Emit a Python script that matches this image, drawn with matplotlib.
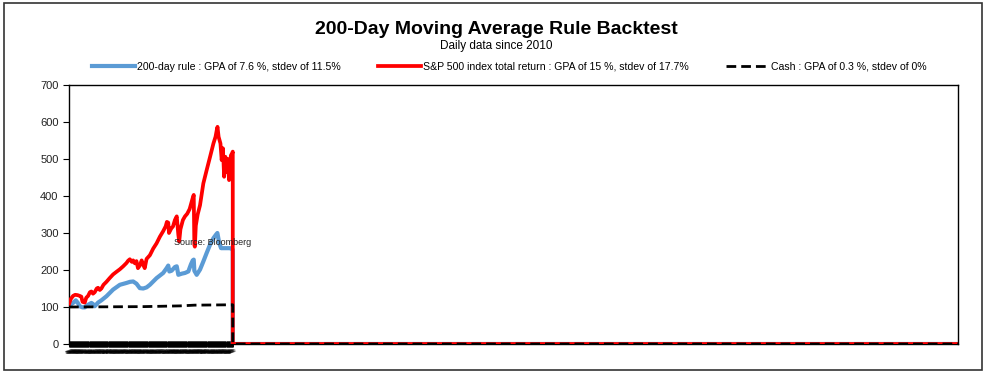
import numpy as np
import matplotlib
matplotlib.use("Agg")
import matplotlib.pyplot as plt
from matplotlib.patches import Rectangle

plt.rcParams['font.family'] = ['Liberation Sans', 'DejaVu Sans']

# S&P 500 total return index (decimal year, value)
spx_years = [2010.00, 2010.15, 2010.33, 2010.50, 2010.70, 2010.87, 2011.00, 2011.10, 2011.28, 2011.40,
             2011.55, 2011.70, 2011.82, 2011.95, 2012.09, 2012.25, 2012.36, 2012.50, 2012.63, 2012.80,
             2013.04, 2013.30, 2013.58, 2013.85, 2014.13, 2014.40, 2014.67, 2014.80, 2014.94, 2015.10,
             2015.21, 2015.35, 2015.48, 2015.60, 2015.75, 2015.90, 2016.03, 2016.15, 2016.30, 2016.57,
             2016.84, 2017.11, 2017.38, 2017.65, 2017.85, 2017.95, 2018.06, 2018.12, 2018.30, 2018.45,
             2018.60, 2018.75, 2018.88, 2018.95, 2019.05, 2019.25, 2019.42, 2019.60, 2019.80, 2020.05,
             2020.13, 2020.18, 2020.22, 2020.30, 2020.45, 2020.64, 2020.91, 2021.18, 2021.45, 2021.73,
             2021.90, 2022.00, 2022.06, 2022.15, 2022.30, 2022.40, 2022.50, 2022.60, 2022.70, 2022.80,
             2022.90, 2023.00, 2023.15, 2023.25, 2023.30]
spx_vals = [108, 122, 130, 133, 132, 130, 128, 114, 112, 125,
            130, 140, 142, 136, 140, 150, 152, 146, 150, 160,
            168, 178, 188, 195, 202, 210, 219, 225, 229, 222,
            226, 218, 224, 205, 212, 226, 214, 205, 230, 240,
            258, 272, 290, 305, 318, 330, 328, 300, 312, 318,
            335, 345, 295, 277, 310, 335, 345, 352, 365, 395,
            403, 268, 263, 320, 350, 375, 434, 470, 505, 542,
            560, 578, 587, 560, 542, 497, 529, 452, 506, 465,
            500, 443, 510, 515, 520]

# 200-day rule strategy
rule_years = [2010.00, 2010.20, 2010.33, 2010.55, 2010.70, 2010.87, 2011.10, 2011.28, 2011.45, 2011.60,
              2011.82, 2011.95, 2012.09, 2012.36, 2012.63, 2013.04, 2013.58, 2014.13, 2014.67, 2014.95,
              2015.21, 2015.48, 2015.75, 2016.03, 2016.30, 2016.57, 2017.11, 2017.65, 2017.93, 2018.06,
              2018.15, 2018.33, 2018.60, 2018.75, 2018.88, 2019.15, 2019.42, 2019.69, 2019.90, 2020.05,
              2020.13, 2020.18, 2020.37, 2020.64, 2020.91, 2021.18, 2021.45, 2021.73, 2021.95, 2022.05,
              2022.20, 2022.35, 2022.81, 2023.08, 2023.30]
rule_vals = [102, 108, 111, 118, 112, 102, 99, 99, 104, 107,
             111, 108, 102, 112, 118, 129, 147, 160, 165, 168,
             169, 163, 151, 150, 153, 160, 178, 192, 205, 212,
             196, 198, 208, 210, 187, 190, 192, 196, 215, 226,
             228, 198, 187, 201, 223, 246, 268, 286, 296, 300,
             273, 259, 259, 259, 255]

# cash
cash_years = [2010.00, 2016.00, 2019.00, 2020.20, 2023.30]
cash_vals = [100, 101, 103, 105, 106]

axis_end = 2082.2
legend_labels = ["200-day rule : GPA of 7.6 %, stdev of 11.5%",
                 "S&P 500 index total return : GPA of 15 %, stdev of 17.7%",
                 "Cash : GPA of 0.3 %, stdev of 0%"]


def with_tail(xs, ys):
    # the sheet carries zeros after the last observation
    return list(xs) + [xs[-1], axis_end], list(ys) + [0, 0]


fig = plt.figure(figsize=(9.93, 3.8), dpi=100)
fig.patches.append(Rectangle((4 / 993, 10 / 380), 978 / 993, 367 / 380, transform=fig.transFigure,
                             fill=False, edgecolor='#333333', linewidth=1.2))
ax = fig.add_axes([69 / 993, 36 / 380, 889 / 993, 259 / 380])

x, y = with_tail(rule_years, rule_vals)
ax.plot(x, y, color='#5B9BD5', lw=3.0, label=legend_labels[0], zorder=2)
x, y = with_tail(spx_years, spx_vals)
ax.plot(x, y, color='#FF0000', lw=2.7, label=legend_labels[1], zorder=3)
x, y = with_tail(cash_years, cash_vals)
ax.plot(x, y, color='black', lw=2.0, ls=(0, (3.5, 1.8)), label=legend_labels[2], zorder=4)

ax.set_xlim(2010.0, axis_end)
ax.set_ylim(0, 700)
ax.set_yticks(range(0, 701, 100))
ax.tick_params(axis='y', labelsize=8, length=4, direction='out', colors='black', labelcolor='#222222')

months = np.arange(2010.0, 2023.31, 1 / 24)
ax.set_xticks(months)
ax.set_xticklabels(["%02d/%02d" % (int((m % 1) * 12) + 1, int(m) % 100) for m in months],
                   fontsize=2.2, rotation=20)
ax.tick_params(axis='x', direction='inout', length=5, width=0.7, pad=1)

for s in ax.spines.values():
    s.set_color('black')
    s.set_linewidth(1.0)

ax.text(2021.7, 273, "Source: Bloomberg", fontsize=6.5, color='#222222', ha='center', va='center', zorder=5)

fig.text(0.5, 0.922, "200-Day Moving Average Rule Backtest", ha='center', va='center',
         fontsize=14, fontweight='bold')
fig.text(0.5, 0.879, "Daily data since 2010", ha='center', va='center', fontsize=8.5)
fig.legend(loc='center', bbox_to_anchor=(0.513, 0.824), ncol=3, frameon=False,
           handlelength=4.1, handletextpad=0.2, columnspacing=3.5, prop={'size': 7.6})

fig.savefig("out.png", dpi=100)
